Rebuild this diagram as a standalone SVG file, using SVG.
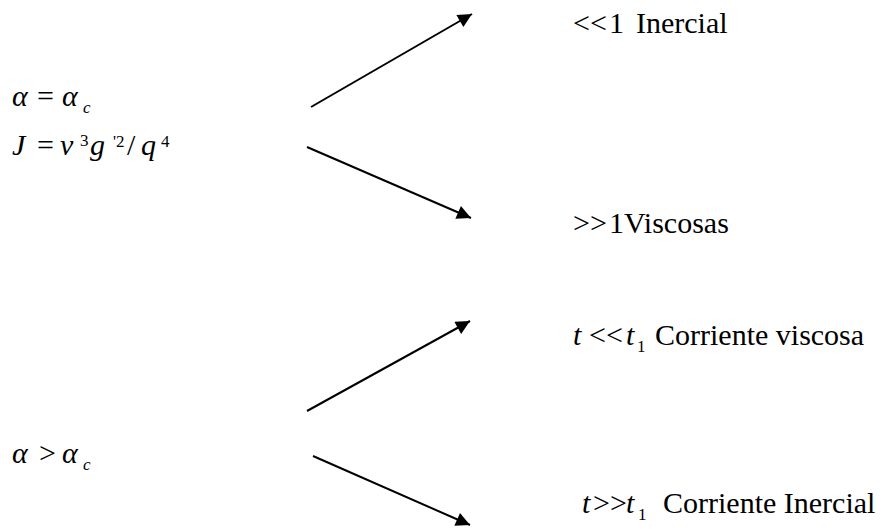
<svg xmlns="http://www.w3.org/2000/svg" width="888" height="529" viewBox="0 0 888 529" font-family="'Liberation Serif', 'Times New Roman', serif">
<style>
text{font-family:"Liberation Serif","Times New Roman",serif;font-size:30px;fill:#000}
.i{font-style:italic}
.s{font-size:17px}
.c{stroke:#000;stroke-width:2;fill:none}
</style>
<defs>
<marker id="a" viewBox="0 0 10 10" refX="10" refY="5" markerWidth="9" markerHeight="7" orient="auto">
<path d="M0,0L10,5L0,10z" fill="#000"/>
</marker>
</defs>
<g id="connectors">
<line class="c" x1="311" y1="107" x2="472" y2="14" marker-end="url(#a)"/>
<line class="c" x1="307" y1="147" x2="471" y2="218" marker-end="url(#a)"/>
<line class="c" x1="307" y1="411" x2="470" y2="321" marker-end="url(#a)"/>
<line class="c" x1="313" y1="456" x2="470" y2="525" marker-end="url(#a)"/>
</g>
<g id="cond1">
<text y="106"><tspan class="i" x="12">α</tspan><tspan x="37">=</tspan><tspan class="i" x="62">α</tspan><tspan class="i s" x="83" y="113">c</tspan></text>
<text y="155"><tspan class="i" x="12">J</tspan><tspan x="37">=</tspan><tspan class="i" x="60">ν</tspan><tspan class="s" x="80" y="146">3</tspan><tspan class="i" x="90" y="155">g</tspan><tspan class="s" x="113" y="147">'2</tspan><tspan x="127" y="155">/</tspan><tspan class="i" x="141">q</tspan><tspan class="s" x="161" y="147">4</tspan></text>
</g>
<g id="r1"><text y="33"><tspan x="573">&lt;&lt;</tspan><tspan x="609">1</tspan><tspan x="636">Inercial</tspan></text></g>
<g id="r2"><text y="233"><tspan x="573">&gt;&gt;</tspan><tspan x="609">1</tspan><tspan x="624">Viscosas</tspan></text></g>
<g id="cond2"><text y="463"><tspan class="i" x="12">α</tspan><tspan x="39">&gt;</tspan><tspan class="i" x="62">α</tspan><tspan class="i s" x="83" y="470">c</tspan></text></g>
<g id="r3"><text y="345"><tspan class="i" x="573">t</tspan><tspan x="589">&lt;&lt;</tspan><tspan class="i" x="626">t</tspan><tspan class="s" x="637" y="352">1</tspan><tspan x="655" y="345">Corriente viscosa</tspan></text></g>
<g id="r4"><text y="513"><tspan class="i" x="582">t</tspan><tspan x="593">&gt;&gt;</tspan><tspan class="i" x="626">t</tspan><tspan class="s" x="638" y="520">1</tspan><tspan x="663" y="513">Corriente Inercial</tspan></text></g>
</svg>
